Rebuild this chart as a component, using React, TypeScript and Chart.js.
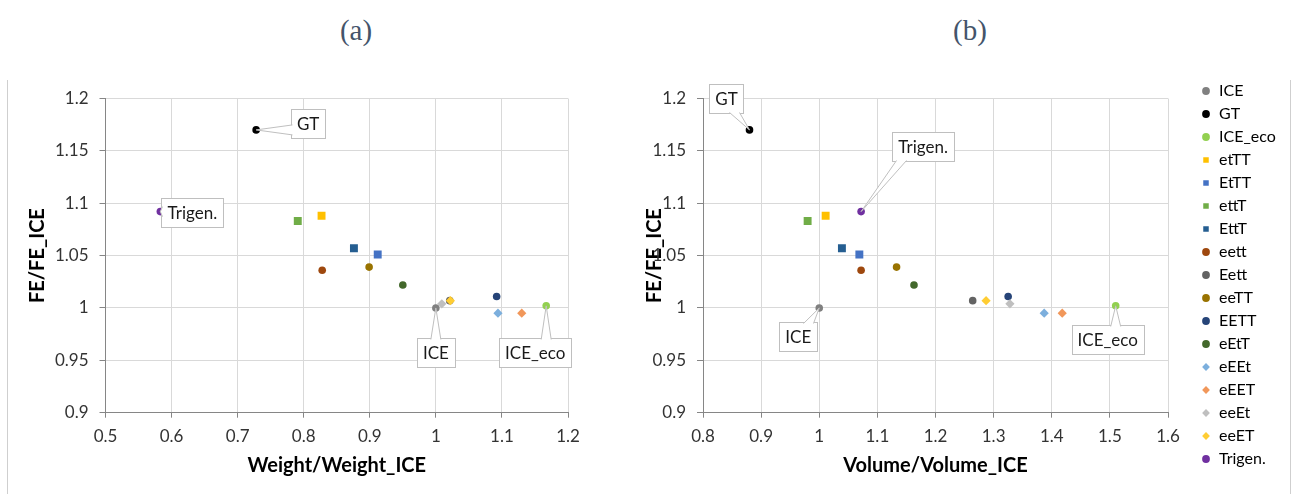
import React, { useEffect, useRef } from 'react';
import { Chart, registerables } from 'chart.js';

Chart.register(...registerables);

// ---------- data ----------
const seriesNames = ['ICE', 'GT', 'ICE_eco', 'etTT', 'EtTT', 'ettT', 'EttT', 'eett', 'Eett', 'eeTT', 'EETT', 'eEtT', 'eEEt', 'eEET', 'eeEt', 'eeET', 'Trigen.'];
const feRatio = [1.0, 1.17, 1.002, 1.088, 1.051, 1.083, 1.057, 1.036, 1.007, 1.039, 1.011, 1.022, 0.995, 0.995, 1.004, 1.007, 1.092];
const weightRatio = [1.0, 0.728, 1.167, 0.827, 0.912, 0.791, 0.876, 0.828, 1.021, 0.899, 1.092, 0.95, 1.094, 1.13, 1.009, 1.022, 0.583];
const volumeRatio = [1.0, 0.88, 1.51, 1.011, 1.069, 0.98, 1.039, 1.072, 1.264, 1.133, 1.325, 1.163, 1.387, 1.418, 1.328, 1.287, 1.072];
const seriesColors = ['#808080', '#000000', '#92D050', '#FFC000', '#4472C4', '#70AD47', '#255E91', '#9E480E', '#636363', '#997300', '#264478', '#43682B', '#7CAFDD', '#F1975A', '#BFBFBF', '#FFCD33', '#7030A0'];
const seriesMarkers = ['circle', 'circle', 'circle', 'rect', 'rect', 'rect', 'rect', 'circle', 'circle', 'circle', 'circle', 'circle', 'rectRot', 'rectRot', 'rectRot', 'rectRot', 'circle'];

const weightTicks = [0.5, 0.6, 0.7, 0.8, 0.9, 1, 1.1, 1.2];
const volumeTicks = [0.8, 0.9, 1, 1.1, 1.2, 1.3, 1.4, 1.5, 1.6];
const feTicks = [0.9, 0.95, 1, 1.05, 1.1, 1.15, 1.2];

const xTitleA = 'Weight/Weight_ICE';
const xTitleB = 'Volume/Volume_ICE';
const yTitle = 'FE/FE_ICE';

// callout label placement (dataset index + pixel offset of the label box from the point)
const calloutsA = [
  { ds: 1, dx: 52, dy: -6 },
  { ds: 16, dx: 32, dy: 1 },
  { ds: 0, dx: 0, dy: 45 },
  { ds: 2, dx: -11, dy: 47 },
];
const calloutsB = [
  { ds: 1, dx: -23, dy: -31 },
  { ds: 16, dx: 62, dy: -65 },
  { ds: 0, dx: -21, dy: 29 },
  { ds: 2, dx: -8, dy: 34 },
];

const FONT = 'Lato';
Chart.defaults.font.family = FONT;

const markerRadius: Record<string, number> = { circle: 3.8, rect: 5.6, rectRot: 4.6 };

function buildDatasets(xs: number[]) {
  return seriesNames.map((name, i) => ({
    label: name,
    data: [{ x: xs[i], y: feRatio[i] }],
    pointStyle: seriesMarkers[i],
    pointRadius: markerRadius[seriesMarkers[i]],
    pointHoverRadius: markerRadius[seriesMarkers[i]],
    backgroundColor: seriesColors[i],
    borderColor: seriesColors[i],
    pointBorderWidth: 0,
    borderWidth: 0,
    showLine: false,
    order: -i,
  }));
}

const fmt = (v: any) => String(+Number(v).toFixed(2));

function xScale(ticks: number[], title: string) {
  return {
    type: 'linear',
    position: 'bottom',
    min: ticks[0],
    max: ticks[ticks.length - 1],
    afterBuildTicks: (s: any) => { s.ticks = ticks.map((v) => ({ value: v })); },
    afterFit: (s: any) => { s.height = 81.3; },
    grid: { color: '#D9D9D9', tickColor: '#868686', tickLength: 5, drawTicks: true },
    border: { color: '#868686', width: 1 },
    ticks: { font: { size: 17 }, color: '#333333', padding: 9, maxRotation: 0, autoSkip: false, callback: fmt },
    title: { display: true, text: title, color: '#000', font: { size: 20, weight: 'bold' }, padding: { top: 0, bottom: 16 } },
  };
}

function yScale(width: number, titlePad: number) {
  return {
    type: 'linear',
    position: 'left',
    min: feTicks[0],
    max: feTicks[feTicks.length - 1],
    afterBuildTicks: (s: any) => { s.ticks = feTicks.map((v) => ({ value: v })); },
    afterFit: (s: any) => { s.width = width; },
    grid: { color: '#D9D9D9', tickColor: '#868686', tickLength: 6, drawTicks: true },
    border: { color: '#868686', width: 1 },
    ticks: { font: { size: 17 }, color: '#333333', padding: 11, autoSkip: false, callback: fmt },
    title: { display: true, text: yTitle, color: '#000', font: { size: 20, weight: 'bold' }, padding: { top: titlePad, bottom: 0 } },
  };
}

const calloutPlugin = {
  id: 'callouts',
  afterDatasetsDraw(chart: any, _args: any, opts: any) {
    const items = (opts && opts.items) || [];
    const ctx = chart.ctx;
    ctx.save();
    ctx.font = `17px ${FONT}`;
    ctx.textAlign = 'center';
    ctx.textBaseline = 'middle';
    for (const it of items) {
      const el = chart.getDatasetMeta(it.ds).data[0];
      if (!el) continue;
      const px = el.x, py = el.y;
      const text = chart.data.datasets[it.ds].label;
      const tw = ctx.measureText(text).width;
      const w = Math.round(tw + 12), h = 29;
      const cx = px + it.dx, cy = py + it.dy;
      const l = Math.round(cx - w / 2) + 0.5, t = Math.round(cy - h / 2) + 0.5;
      const r = l + w, b = t + h;
      ctx.fillStyle = '#FFFFFF';
      ctx.strokeStyle = '#BFBFBF';
      ctx.lineWidth = 1;
      ctx.fillRect(l, t, w, h);
      ctx.strokeRect(l, t, w, h);
      const hw = 5;
      const clamp = (v: number, a: number, z: number) => Math.max(a, Math.min(z, v));
      let b1: number[], b2: number[];
      if (py > b) {
        const bx = clamp(px, l + 9, r - 9); b1 = [bx - hw, b - 1]; b2 = [bx + hw, b - 1];
      } else if (py < t) {
        const bx = clamp(px, l + 9, r - 9); b1 = [bx - hw, t + 1]; b2 = [bx + hw, t + 1];
      } else if (px < l) {
        const by = clamp(py, t + 8, b - 8); b1 = [l + 1, by - hw]; b2 = [l + 1, by + hw];
      } else {
        const by = clamp(py, t + 8, b - 8); b1 = [r - 1, by - hw]; b2 = [r - 1, by + hw];
      }
      ctx.beginPath();
      ctx.moveTo(b1[0], b1[1]);
      ctx.lineTo(px, py);
      ctx.lineTo(b2[0], b2[1]);
      ctx.closePath();
      ctx.fill();
      ctx.beginPath();
      ctx.moveTo(b1[0], b1[1]);
      ctx.lineTo(px, py);
      ctx.lineTo(b2[0], b2[1]);
      ctx.stroke();
      ctx.fillStyle = '#1A1A1A';
      ctx.fillText(text, cx, cy + 1);
    }
    ctx.restore();
  },
};

function ChartA() {
  const ref = useRef<HTMLCanvasElement>(null);
  useEffect(() => {
    const chart = new Chart(ref.current as HTMLCanvasElement, {
      type: 'scatter',
      data: { datasets: buildDatasets(weightRatio) as any },
      options: {
        animation: false,
        responsive: false,
        devicePixelRatio: 1,
        layout: { padding: { top: 22.5, right: 72, left: 0, bottom: 0 } },
        scales: { x: xScale(weightTicks, xTitleA) as any, y: yScale(97.5, 18) as any },
        plugins: {
          legend: { display: false },
          tooltip: { enabled: false },
          callouts: { items: calloutsA },
        } as any,
      },
      plugins: [calloutPlugin],
    });
    return () => chart.destroy();
  }, []);
  return <canvas ref={ref} width={632} height={418} style={{ display: 'block' }} />;
}

function ChartB() {
  const ref = useRef<HTMLCanvasElement>(null);
  useEffect(() => {
    const chart = new Chart(ref.current as HTMLCanvasElement, {
      type: 'scatter',
      data: { datasets: buildDatasets(volumeRatio) as any },
      options: {
        animation: false,
        responsive: false,
        devicePixelRatio: 1,
        layout: { padding: { top: 0, right: 9, left: 0, bottom: 0 } },
        scales: {
          x: xScale(volumeTicks, xTitleB) as any,
          y: yScale(83, 23) as any,
          yGap: {
            type: 'linear',
            position: 'right',
            display: true,
            grid: { display: false },
            border: { display: false },
            ticks: { display: false },
            afterFit: (s: any) => { s.width = 26; },
          } as any,
        },
        plugins: {
          title: { display: true, text: ' ', font: { size: 10, lineHeight: 1 }, padding: { top: 12.5, bottom: 0 } },
          legend: {
            display: true,
            position: 'right',
            align: 'start',
            maxWidth: 90,
            labels: {
              usePointStyle: true,
              boxWidth: 10,
              boxHeight: 5.5,
              padding: 7,
              color: '#000',
              font: { size: 16 },
              sort: (a: any, b: any) => a.datasetIndex - b.datasetIndex,
            },
          },
          tooltip: { enabled: false },
          callouts: { items: calloutsB },
        } as any,
      },
      plugins: [calloutPlugin],
    });
    return () => chart.destroy();
  }, []);
  return <canvas ref={ref} width={673} height={418} style={{ display: 'block' }} />;
}

const panelTitle: React.CSSProperties = {
  position: 'absolute',
  top: 15,
  width: 100,
  height: 30,
  lineHeight: '30px',
  textAlign: 'center',
  fontFamily: '"Liberation Serif", serif',
  fontSize: 29,
  color: '#44546A',
};

export default function App() {
  return (
    <div style={{ position: 'absolute', left: 0, top: 0, width: 1293, height: 494, background: '#fff', overflow: 'hidden' }}>
      <div style={{ ...panelTitle, left: 356 - 50 }}>(a)</div>
      <div style={{ ...panelTitle, left: 970 - 50 }}>(b)</div>
      <div style={{ position: 'absolute', left: 7, top: 80, width: 1282, height: 420, borderLeft: '1px solid #CFCFCF', borderRight: '1px solid #CFCFCF' }} />
      <div style={{ position: 'absolute', left: 8, top: 76 }}>
        <ChartA />
      </div>
      <div style={{ position: 'absolute', left: 620, top: 76 }}>
        <ChartB />
      </div>
    </div>
  );
}
